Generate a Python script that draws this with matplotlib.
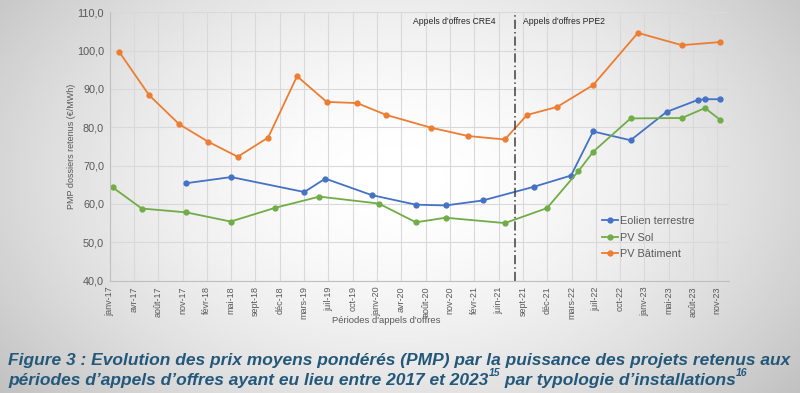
import matplotlib
matplotlib.use("Agg")
import matplotlib.pyplot as plt
import numpy as np

# séries (dates approximatives des périodes d'appels d'offres)
dates_eolien = ["2017-11-26", "2018-05-30", "2019-03-27", "2019-06-21", "2019-12-29",
                "2020-06-28", "2020-10-28", "2021-03-30", "2021-10-28", "2022-03-28",
                "2022-06-27", "2022-11-28", "2023-04-25", "2023-08-31", "2023-09-30",
                "2023-11-30"]
eolien = [65.4, 67.0, 63.1, 66.6, 62.3, 59.8, 59.6, 60.9, 64.5, 67.4,
          78.9, 76.6, 84.0, 87.1, 87.3, 87.3]

dates_sol = ["2017-01-28", "2017-05-27", "2017-11-26", "2018-05-28", "2018-11-28",
             "2019-05-28", "2020-01-27", "2020-06-28", "2020-10-28", "2021-06-29",
             "2021-12-19", "2022-04-27", "2022-06-27", "2022-11-28", "2023-06-27",
             "2023-09-30", "2023-11-30"]
sol = [64.3, 58.8, 57.8, 55.4, 59.0, 61.9, 60.1, 55.2, 56.4, 55.0,
       58.9, 68.5, 73.6, 82.3, 82.4, 85.0, 82.0]

dates_bat = ["2017-02-24", "2017-06-26", "2017-10-28", "2018-02-25", "2018-06-26",
             "2018-10-29", "2019-02-25", "2019-06-27", "2019-10-30", "2020-02-27",
             "2020-08-28", "2021-01-29", "2021-06-29", "2021-09-28", "2022-01-30",
             "2022-06-27", "2022-12-28", "2023-06-27", "2023-11-30"]
batiment = [99.6, 88.4, 80.8, 76.2, 72.3, 77.3, 93.3, 86.6, 86.3, 83.2,
            79.9, 77.7, 76.8, 83.2, 85.3, 91.0, 104.6, 101.4, 102.2]

tick_labels = ["janv-17", "avr-17", "août-17", "nov-17", "févr-18", "mai-18", "sept-18",
               "déc-18", "mars-19", "juil-19", "oct-19", "janv-20", "avr-20", "août-20",
               "nov-20", "févr-21", "juin-21", "sept-21", "déc-21", "mars-22", "juil-22",
               "oct-22", "janv-23", "mai-23", "août-23", "nov-23"]

bleu = "#4472c4"
vert = "#70ad47"
orange = "#ed7d31"
gris = "#595959"

plt.rcParams["font.family"] = ["Liberation Sans", "DejaVu Sans"]

fig = plt.figure(figsize=(8, 3.93), dpi=100)

# fond dégradé
bg = fig.add_axes([0, 0, 1, 1], zorder=-10)
yy, xx = np.mgrid[0:1:200j, 0:1:400j]
r = np.sqrt(((xx - 0.5) / 0.72) ** 2 + ((yy - 0.45) / 1.0) ** 2)
grad = 1.0 - 0.30 * np.clip(r, 0, 1) ** 1.7
bg.imshow(grad, cmap="gray", vmin=0, vmax=1, aspect="auto", extent=[0, 1, 0, 1])
bg.axis("off")

ax = fig.add_axes([0.137, 0.286, 0.774, 0.683])
ax.patch.set_alpha(0)

d0 = np.datetime64("2017-01-15")
ticks = [d0 + np.timedelta64(100 * k, "D") for k in range(len(tick_labels))]

for d, v, c, lab in [(dates_eolien, eolien, bleu, "Eolien terrestre"),
                     (dates_sol, sol, vert, "PV Sol"),
                     (dates_bat, batiment, orange, "PV Bâtiment")]:
    ax.plot(np.array(d, dtype="datetime64[D]"), v, color=c, lw=1.3,
            marker="o", ms=3.5, label=lab)

ax.axvline(np.datetime64("2021-08-10"), color="#404040", lw=1.1, ls=(0, (6, 2, 1, 2)))
ax.text(np.datetime64("2021-05-20"), 107.7, "Appels d'offres CRE4", ha="right",
        va="center", fontsize=6.2, color="#262626")
ax.text(np.datetime64("2021-09-12"), 107.7, "Appels d'offres PPE2", ha="left",
        va="center", fontsize=6.2, color="#262626")

ax.set_xticks(ticks)
ax.set_xticklabels(tick_labels, rotation=90, fontsize=6.5, color=gris)
ax.set_xlim(d0, d0 + np.timedelta64(2547, "D"))
ax.set_ylim(40, 110)
ax.set_yticks(np.arange(40, 111, 10))
ax.set_yticklabels([f"{v:.1f}".replace(".", ",") for v in np.arange(40, 111, 10)],
                   fontsize=7.8, color=gris)
ax.tick_params(length=0, pad=4)
ax.grid(True, color="#d9d9d9", lw=0.8)
ax.set_axisbelow(True)
for s in ["top", "right"]:
    ax.spines[s].set_visible(False)
for s in ["left", "bottom"]:
    ax.spines[s].set_color("#bfbfbf")

ax.set_ylabel("PMP dossiers retenus (€/MWh)", fontsize=6.5, color=gris, labelpad=1)
fig.text(0.483, 0.185, "Périodes d'appels d'offres", ha="center", va="center",
         fontsize=6.8, color=gris)

ax.legend(loc="upper left", bbox_to_anchor=(0.783, 0.268), frameon=False,
          fontsize=7.8, labelcolor=gris, handlelength=1.5, handletextpad=0.15,
          labelspacing=0.6, borderpad=0.2)

# légende de la figure, avec exposants
cap = "#23587a"
style = dict(fontsize=12.5, fontweight="bold", style="italic", color=cap, va="baseline")
renderer = fig.canvas.get_renderer()
W = fig.bbox.width


def ligne(morceaux, y):
    x = 0.01
    for txt, sup in morceaux:
        if sup:
            t = fig.text(x + 0.001, y + 0.022, txt, **{**style, "fontsize": 7.5})
            x = t.get_window_extent(renderer).x1 / W - 0.001
        else:
            t = fig.text(x, y, txt, **style)
            x = t.get_window_extent(renderer).x1 / W


ligne([("Figure 3 : Evolution des prix moyens pondérés (PMP) par la puissance des projets retenus aux", False)], 0.072)
ligne([("périodes d’appels d’offres ayant eu lieu entre 2017 et 2023", False), ("15", True),
       (" par typologie d’installations", False), ("16", True)], 0.021)

fig.savefig("out.png", dpi=100)
